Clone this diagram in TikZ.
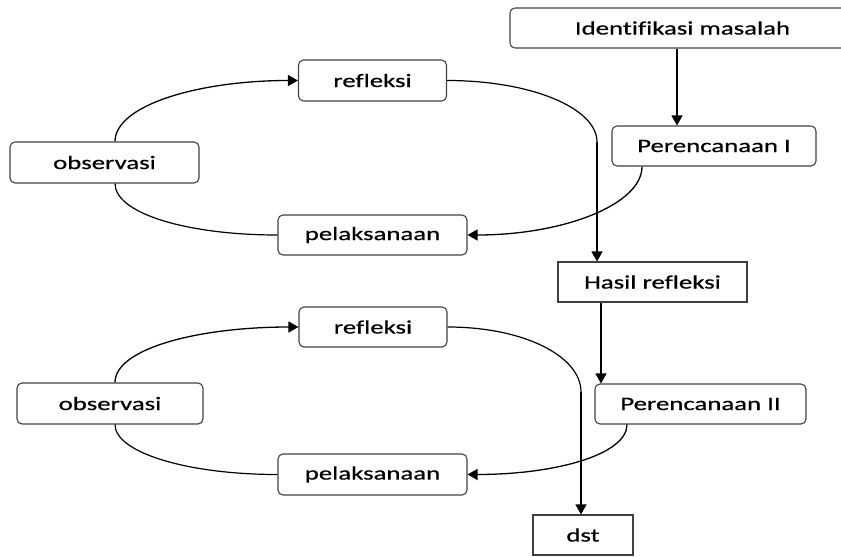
\documentclass[tikz,border=0pt]{standalone}
\usepackage{fontspec}
\setmainfont{Carlito}[FakeStretch=1.41, FakeBold=0.6, Ligatures={NoCommon}]
\usetikzlibrary{arrows.meta}
\begin{document}
\begin{tikzpicture}[x=1pt,y=1pt,
  rbox/.style={draw=black!75, line width=1.1pt, rounded corners=5pt, inner sep=0pt,
    font=\fontsize{19}{22}\selectfont, text=black},
  sbox/.style={rbox, rounded corners=0pt},
  conn/.style={line width=1.3pt, -{Triangle[length=10pt,width=11pt]}},
  link/.style={line width=1.2pt}
]
\useasboundingbox (0,0) rectangle (841,-557);
\clip (0,0) rectangle (841,-557);
% top part
\node[rbox, minimum width=340pt, minimum height=40pt] (idm) at (680,-28) {};
\node[font=\fontsize{19}{22}\selectfont] (idmt) at (682.5,-28) {Identifikasi masalah};
\node[rbox, minimum width=204pt, minimum height=40pt] (p1) at (714,-146) {Perencanaan I};
\node[rbox, minimum width=148pt, minimum height=41pt] (ref1) at (372.5,-80.5) {refleksi};
\node[rbox, minimum width=189pt, minimum height=40pt] (pel1) at (372.5,-235) {pelaksanaan};
\node[rbox, minimum width=189pt, minimum height=41pt] (obs1) at (104.5,-162.5) {observasi};
\node[sbox, minimum width=189pt, minimum height=40pt] (hasil) at (652.5,-282) {Hasil refleksi};
% bottom part
\node[rbox, minimum width=211pt, minimum height=40pt] (p2) at (700.5,-404) {Perencanaan II};
\node[rbox, minimum width=148pt, minimum height=40pt] (ref2) at (373,-327) {refleksi};
\node[rbox, minimum width=186pt, minimum height=41pt] (obs2) at (110,-403.5) {observasi};
\node[rbox, minimum width=189pt, minimum height=41pt] (pel2) at (372.5,-474.5) {pelaksanaan};
\node[sbox, minimum width=100pt, minimum height=40pt] (dst) at (583,-535) {dst};
% helper coordinates
\coordinate (a1) at (677,-48);
\coordinate (v1) at (597,-142);
\coordinate (v2) at (581,-392);
% connectors top
\draw[conn] (idm.south -| a1) -- (p1.north -| a1);
\draw[conn] ([xshift=10.5pt]obs1.north) .. controls +(0,36) and +(-100,0) .. (ref1.west);
\draw[link] (ref1.east) .. controls +(84,0) and +(0,34) .. (v1);
\draw[conn] (v1) -- (hasil.north -| v1);
\draw[conn] ([xshift=-72pt]p1.south) .. controls +(0,-38) and +(96,0) .. (pel1.east);
\draw[link] (pel1.west) .. controls +(-90,0) and +(0,-30) .. ([xshift=10.5pt]obs1.south);
\draw[conn] ([xshift=-51.5pt]hasil.south) -- ([xshift=-51.5pt]hasil.south |- p2.north);
% connectors bottom
\draw[conn] ([xshift=5pt]obs2.north) .. controls +(0,34) and +(-100,0) .. (ref2.west);
\draw[link] (ref2.east) .. controls +(76,0) and +(0,36) .. (v2);
\draw[conn] (v2) -- (dst.north -| v2);
\draw[conn] ([xshift=-73.5pt]p2.south) .. controls +(0,-30) and +(88,0) .. (pel2.east);
\draw[link] (pel2.west) .. controls +(-90,0) and +(0,-28) .. ([xshift=5pt]obs2.south);
\end{tikzpicture}
\end{document}
